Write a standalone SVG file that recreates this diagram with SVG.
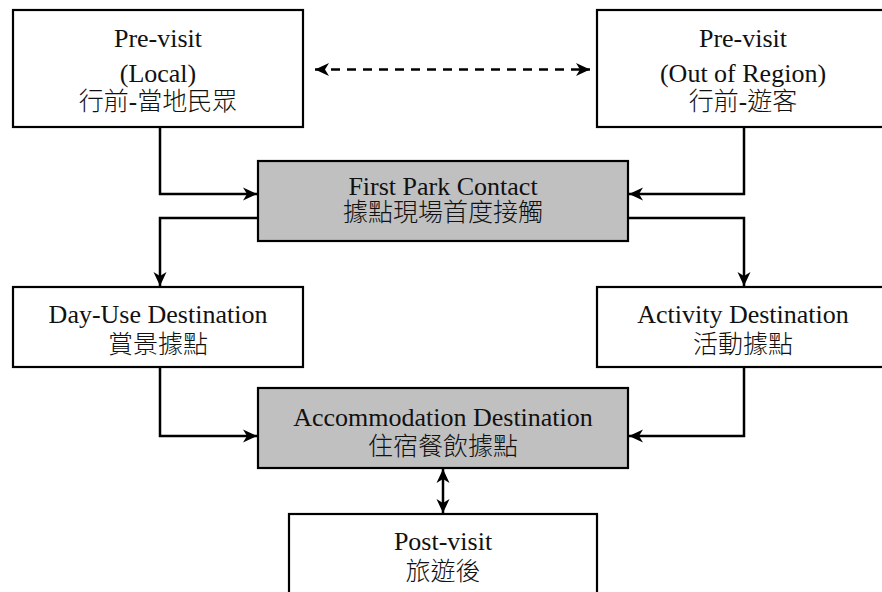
<svg xmlns="http://www.w3.org/2000/svg" width="882" height="592" viewBox="0 0 882 592">
<style>
.box{fill:#ffffff;stroke:#000000;stroke-width:2.2}
.hl{fill:#c0c0c0;stroke:#000000;stroke-width:2.2}
text{font-family:"Liberation Serif","Noto Sans CJK TC",serif;font-size:26px;fill:#111111;text-anchor:middle}
.zh{font-family:"Liberation Serif","Noto Sans CJK TC","Noto Sans CJK SC",sans-serif;font-size:25px;font-weight:300}
.c{fill:none;stroke:#000000;stroke-width:2.5}
.d{stroke-dasharray:9 7}
</style>
<defs>
<marker id="ah" markerUnits="userSpaceOnUse" markerWidth="15" markerHeight="14" refX="14" refY="7" orient="auto-start-reverse" viewBox="0 0 15 14">
<path d="M0,0.5 L14,7 L0,13.5 L4,7 Z" fill="#000000"/>
</marker>
</defs>
<g id="connectors">
<path class="c" d="M160 127 V194 H257" marker-end="url(#ah)"/>
<path class="c" d="M744 127 V194 H629" marker-end="url(#ah)"/>
<path class="c" d="M258 218 H160 V286" marker-end="url(#ah)"/>
<path class="c" d="M628 218 H744 V286" marker-end="url(#ah)"/>
<path class="c" d="M160 367 V436 H257" marker-end="url(#ah)"/>
<path class="c" d="M744 367 V436 H629" marker-end="url(#ah)"/>
<path class="c" d="M443 469 V513" marker-start="url(#ah)" marker-end="url(#ah)"/>
<path class="c d" d="M315 69.5 H590" marker-start="url(#ah)" marker-end="url(#ah)"/>
</g>
<g id="previsit-local">
<rect class="box" x="13" y="10" width="290" height="117"/>
<text x="158" y="47">Pre-visit</text>
<text x="158" y="82">(Local)</text>
<text class="zh" x="158" y="110">行前-當地民眾</text>
</g>
<g id="previsit-out">
<rect class="box" x="597" y="10" width="292" height="117"/>
<text x="743" y="47">Pre-visit</text>
<text x="743" y="82">(Out of Region)</text>
<text class="zh" x="743" y="110">行前-遊客</text>
</g>
<g id="first-park-contact">
<rect class="hl" x="258" y="161" width="370" height="80"/>
<text x="443" y="195">First Park Contact</text>
<text class="zh" x="443" y="221">據點現場首度接觸</text>
</g>
<g id="day-use">
<rect class="box" x="13" y="287" width="290" height="80"/>
<text x="158" y="323">Day-Use Destination</text>
<text class="zh" x="158" y="353">賞景據點</text>
</g>
<g id="activity">
<rect class="box" x="597" y="287" width="292" height="80"/>
<text x="743" y="323">Activity Destination</text>
<text class="zh" x="743" y="353">活動據點</text>
</g>
<g id="accommodation">
<rect class="hl" x="258" y="388" width="370" height="80"/>
<text x="443" y="426">Accommodation Destination</text>
<text class="zh" x="443" y="455">住宿餐飲據點</text>
</g>
<g id="postvisit">
<rect class="box" x="289" y="514" width="308" height="84"/>
<text x="443" y="550">Post-visit</text>
<text class="zh" x="443" y="580">旅遊後</text>
</g>
</svg>
